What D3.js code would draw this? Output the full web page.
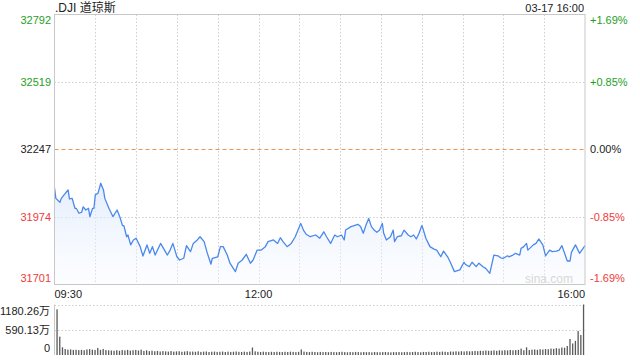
<!DOCTYPE html>
<html><head><meta charset="utf-8">
<script src="https://cdn.jsdelivr.net/npm/d3@7/dist/d3.min.js"></script>
<style>
html,body{margin:0;padding:0;background:#fff;}
svg{display:block;font-family:"Liberation Sans",Arial,sans-serif;}
</style></head>
<body>
<svg id="c" width="640" height="360"></svg>
<script>
// ---- data ----
const title = ".DJI 道琼斯";
const stamp = "03-17 16:00";
const prevClose = 32247;
const priceTicks = [32792, 32519, 32247, 31974, 31701];
const pctTicks = ["+1.69%", "+0.85%", "0.00%", "-0.85%", "-1.69%"];
const timeTicks = [{m:0,label:"09:30"},{m:150,label:"12:00"},{m:390,label:"16:00"}];
// minutes after 09:30
const priceMinutes = [0,1,4,5,7,10,11,13,15,16,18,20,21,23,25,26,28,29,30,32,34,36,37,40,43,46,48,50,51,53,54,56,58,60,63,65,68,70,72,74,78,83,85,87,90,92,95,97,100,102,105,107,110,112,115,116,120,122,124,127,129,133,135,138,141,144,146,149,152,155,157,161,164,166,168,171,174,177,181,183,185,188,192,195,198,200,203,206,208,211,213,214,218,223,225,227,229,231,233,235,237,239,241,242,244,247,249,250,252,255,257,260,262,264,266,268,270,271,273,276,279,281,284,286,289,291,294,298,301,302,305,307,310,312,315,317,320,323,326,328,330,333,334,337,339,342,343,345,347,348,352,354,356,359,361,364,366,369,371,373,375,377,379,380,383,386,390];
const priceValues = [32092,32049,32033,32049,32063,32083,32047,32049,32009,32009,31989,31993,32015,32002,32009,31975,32009,32009,32063,32070,32110,32083,32049,32009,31975,32002,31975,31939,31939,31894,31901,31861,31881,31888,31854,31816,31861,31827,31854,31820,31867,31820,31840,31867,31813,31800,31807,31858,31834,31867,31881,31894,31874,31834,31783,31807,31813,31854,31854,31820,31787,31753,31787,31800,31823,31787,31800,31840,31840,31854,31874,31881,31867,31890,31874,31854,31867,31894,31948,31921,31904,31894,31901,31888,31914,31894,31867,31901,31894,31901,31881,31921,31935,31944,31935,31908,31941,31968,31935,31921,31912,31921,31948,31908,31881,31894,31921,31874,31894,31898,31921,31901,31894,31901,31885,31908,31939,31925,31888,31854,31844,31840,31813,31836,31813,31791,31753,31760,31791,31783,31773,31791,31773,31787,31773,31766,31746,31820,31817,31809,31807,31817,31813,31820,31827,31820,31847,31854,31867,31840,31861,31867,31885,31861,31817,31840,31834,31836,31840,31858,31827,31796,31796,31831,31861,31827,31858];
// volume (万), one bar per 2 minutes
const volTicks = [{v:1180.26,label:"1180.26万"},{v:590.13,label:"590.13万"},{v:0,label:"0"}];
const volumes = [1068,428,180,140,125,130,118,122,115,120,
112,130,138,125,118,165,120,140,115,110,
105,98,112,100,115,108,120,102,112,118,
105,125,95,110,90,100,88,95,82,90,
85,80,92,78,85,88,75,82,90,78,
80,75,85,72,78,82,70,76,80,72,
75,80,70,78,72,76,82,74,70,78,
72,80,175,85,75,70,78,72,68,75,
70,76,72,68,75,70,78,72,68,74,
130,80,72,68,75,70,65,72,68,70,
66,72,68,65,70,75,68,64,70,66,
72,68,64,70,66,68,62,70,66,64,
68,70,65,62,68,66,70,64,68,72,
66,70,75,68,64,72,70,76,68,72,
78,72,80,75,70,82,78,85,80,88,
82,90,85,88,95,90,100,95,105,98,
100,108,98,110,105,112,108,118,110,115,
120,150,112,180,115,125,130,120,135,128,
140,135,150,145,160,150,175,170,210,374,
270,330,560,467,1180.26];

// ---- layout ----
const svg = d3.select("#c");
const L = 54.5, R = 585, T = 14.5, B = 284.5;
const VT = 304.5, VB = 355;
const green = "#1ea01e", red = "#ee3b3b", grid = "#cfcfcf", frame = "#c8c8c8";

const x = d3.scaleLinear().domain([0, 390]).range([L, R]);
const y = d3.scaleLinear().domain([31701, 32792]).range([B, T]);
const yv = d3.scaleLinear().domain([0, 1180.26]).range([VB, VT]);

// gradient
const defs = svg.append("defs");
const gr = defs.append("linearGradient").attr("id","ga").attr("x1",0).attr("y1",0).attr("x2",0).attr("y2",1);
gr.append("stop").attr("offset","0%").attr("stop-color","#dbe8fc").attr("stop-opacity",0.75);
gr.append("stop").attr("offset","100%").attr("stop-color","#f4f8fe").attr("stop-opacity",0.3);

// vertical grid (every 30 min)
const vgrid = d3.range(30, 390, 30);
svg.append("g").selectAll("line").data(vgrid).join("line")
  .attr("x1", d => Math.round(x(d)) + 0.5).attr("x2", d => Math.round(x(d)) + 0.5)
  .attr("y1", T).attr("y2", B)
  .attr("stroke", grid).attr("stroke-dasharray", "1.5,2").attr("stroke-width", 1);

// horizontal grid
svg.append("g").selectAll("line").data([32519, 31974]).join("line")
  .attr("x1", L).attr("x2", R)
  .attr("y1", d => Math.round(y(d)) + 0.5).attr("y2", d => Math.round(y(d)) + 0.5)
  .attr("stroke", grid).attr("stroke-dasharray", "1.5,2");

// area + line
const pts = priceMinutes.map((m, i) => [m, priceValues[i]]);
svg.append("path").datum(pts)
  .attr("d", d3.area().x(d => x(d[0])).y0(B).y1(d => y(d[1])))
  .attr("fill", "url(#ga)");

// prev close line
svg.append("line").attr("x1", L).attr("x2", R)
  .attr("y1", Math.round(y(prevClose)) + 0.5).attr("y2", Math.round(y(prevClose)) + 0.5)
  .attr("stroke", "#ee9452").attr("stroke-dasharray", "4,3").attr("stroke-width", 1);

svg.append("path").datum(pts)
  .attr("d", d3.line().x(d => x(d[0])).y(d => y(d[1])))
  .attr("fill", "none").attr("stroke", "#4a88ec").attr("stroke-width", 1.3)
  .attr("stroke-linejoin", "round");

// frame
svg.append("rect").attr("x", L).attr("y", T).attr("width", R - L).attr("height", B - T)
  .attr("fill", "none").attr("stroke", frame).attr("stroke-width", 1);

// watermark
svg.append("text").attr("x", 573).attr("y", 283).attr("text-anchor", "end")
  .attr("font-size", 12).attr("fill", "#d8d8d8").text("sina.com");

// left price labels
const colorFor = v => v > prevClose ? green : (v < prevClose ? red : "#222");
svg.append("g").selectAll("text").data(priceTicks).join("text")
  .attr("x", 51).attr("y", (d, i) => i === 0 ? y(d) + 5.5 : (i === priceTicks.length - 1 ? y(d) - 6 : y(d)))
  .attr("dy", "0.35em").attr("text-anchor", "end").attr("font-size", 11)
  .attr("fill", d => colorFor(d)).text(d => d);

// right pct labels
svg.append("g").selectAll("text").data(pctTicks).join("text")
  .attr("x", 590).attr("y", (d, i) => i === 0 ? y(priceTicks[i]) + 5.5 : (i === pctTicks.length - 1 ? y(priceTicks[i]) - 6 : y(priceTicks[i])))
  .attr("dy", "0.35em").attr("text-anchor", "start").attr("font-size", 11)
  .attr("fill", (d, i) => colorFor(priceTicks[i])).text(d => d);

// time labels
svg.append("g").selectAll("text").data(timeTicks).join("text")
  .attr("x", d => x(d.m)).attr("y", 294).attr("dy", "0.35em")
  .attr("text-anchor", (d, i) => i === 0 ? "start" : (i === timeTicks.length - 1 ? "end" : "middle"))
  .attr("font-size", 11).attr("fill", "#222").text(d => d.label);

// title and stamp
svg.append("text").attr("x", 55).attr("y", 8).attr("dy", "0.35em").attr("font-size", 12)
  .attr("fill", "#222").style("font-family", "'Liberation Sans','Noto Sans CJK SC',sans-serif").text(title);
svg.append("text").attr("x", 584).attr("y", 8).attr("dy", "0.35em").attr("font-size", 11)
  .attr("text-anchor", "end").attr("fill", "#222").text(stamp);

// volume grid
svg.append("g").selectAll("line").data([1180.26, 590.13]).join("line")
  .attr("x1", L).attr("x2", R)
  .attr("y1", d => Math.round(yv(d)) + 0.5).attr("y2", d => Math.round(yv(d)) + 0.5)
  .attr("stroke", grid).attr("stroke-dasharray", "1.5,2");
svg.append("line").attr("x1", L).attr("x2", L).attr("y1", VT).attr("y2", VB)
  .attr("stroke", frame);

// volume bars
const xb = d3.scaleLinear().domain([0, volumes.length - 1]).range([L + 2.5, R - 1.5]);
svg.append("g").selectAll("rect").data(volumes).join("rect")
  .attr("x", (d, i) => xb(i) - 0.6).attr("width", 1.3)
  .attr("y", d => yv(d)).attr("height", d => VB - yv(d))
  .attr("fill", "#5a5a5a");

// volume labels
svg.append("g").selectAll("text").data(volTicks).join("text")
  .attr("x", 50).attr("y", (d, i) => i === 0 ? yv(d.v) + 7 : (i === 2 ? yv(d.v) - 7 : yv(d.v)))
  .attr("dy", "0.35em").attr("text-anchor", "end").attr("font-size", 11)
  .attr("fill", "#222").style("font-family", "'Liberation Sans','Noto Sans CJK SC',sans-serif")
  .text(d => d.label);
</script>
</body></html>
